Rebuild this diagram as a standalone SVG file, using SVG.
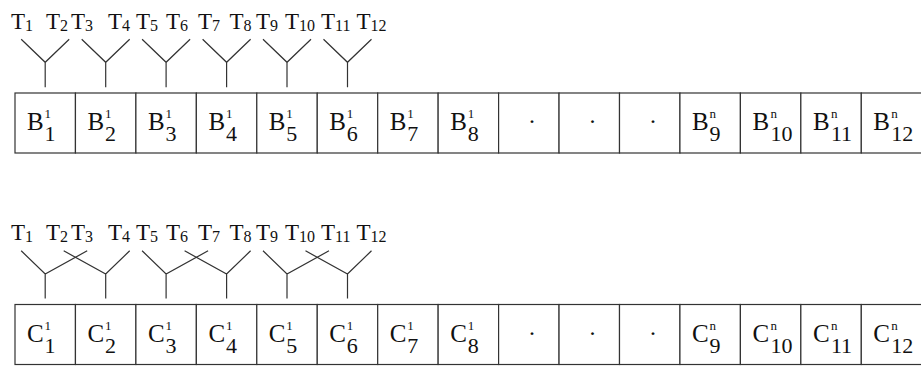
<svg xmlns="http://www.w3.org/2000/svg" width="921" height="367" viewBox="0 0 921 367">
<style>
text{font-family:"Liberation Serif","Times New Roman",serif;fill:#111}
.t{font-size:23px}
.ts{font-size:16px}
.m{font-size:25px}
.sub{font-size:22px}
.sup{font-size:13px}
.dot{font-size:24px;text-anchor:middle}
.cell{fill:#fff;stroke:#333;stroke-width:1.2}
.ln{stroke:#333;stroke-width:1.2;fill:none}
</style>
<rect width="921" height="367" fill="#fff"/>
<g id="labels-top">
<text class="t" y="28.5"><tspan x="11">T</tspan><tspan class="ts" dy="2">1</tspan><tspan x="46" dy="-2">T</tspan><tspan class="ts" dy="2">2</tspan><tspan x="71" dy="-2">T</tspan><tspan class="ts" dy="2">3</tspan><tspan x="108" dy="-2">T</tspan><tspan class="ts" dy="2">4</tspan><tspan x="136" dy="-2">T</tspan><tspan class="ts" dy="2">5</tspan><tspan x="166" dy="-2">T</tspan><tspan class="ts" dy="2">6</tspan><tspan x="198" dy="-2">T</tspan><tspan class="ts" dy="2">7</tspan><tspan x="229.5" dy="-2">T</tspan><tspan class="ts" dy="2">8</tspan><tspan x="256" dy="-2">T</tspan><tspan class="ts" dy="2">9</tspan><tspan x="285" dy="-2">T</tspan><tspan class="ts" dy="2">10</tspan><tspan x="321" dy="-2">T</tspan><tspan class="ts" dy="2">11</tspan><tspan x="356.5" dy="-2">T</tspan><tspan class="ts" dy="2">12</tspan></text>
</g>
<g id="labels-bottom">
<text class="t" y="240"><tspan x="11">T</tspan><tspan class="ts" dy="2">1</tspan><tspan x="46" dy="-2">T</tspan><tspan class="ts" dy="2">2</tspan><tspan x="71" dy="-2">T</tspan><tspan class="ts" dy="2">3</tspan><tspan x="108" dy="-2">T</tspan><tspan class="ts" dy="2">4</tspan><tspan x="136" dy="-2">T</tspan><tspan class="ts" dy="2">5</tspan><tspan x="166" dy="-2">T</tspan><tspan class="ts" dy="2">6</tspan><tspan x="198" dy="-2">T</tspan><tspan class="ts" dy="2">7</tspan><tspan x="229.5" dy="-2">T</tspan><tspan class="ts" dy="2">8</tspan><tspan x="256" dy="-2">T</tspan><tspan class="ts" dy="2">9</tspan><tspan x="285" dy="-2">T</tspan><tspan class="ts" dy="2">10</tspan><tspan x="321" dy="-2">T</tspan><tspan class="ts" dy="2">11</tspan><tspan x="356.5" dy="-2">T</tspan><tspan class="ts" dy="2">12</tspan></text>
</g>
<g id="connectors" class="ln">
<path d="M21.2 39.3L45.2 62.3L69.2 39.3M45.2 62.3V87.3"/>
<path d="M81.7 39.3L105.7 62.3L129.7 39.3M105.7 62.3V87.3"/>
<path d="M142.1 39.3L166.1 62.3L190.1 39.3M166.1 62.3V87.3"/>
<path d="M202.6 39.3L226.6 62.3L250.6 39.3M226.6 62.3V87.3"/>
<path d="M263 39.3L287 62.3L311 39.3M287 62.3V87.3"/>
<path d="M323.5 39.3L347.5 62.3L371.5 39.3M347.5 62.3V87.3"/>
<path d="M21.2 250.8L45.2 274L87.2 250.8M45.2 274V298.5"/>
<path d="M63.7 250.8L105.7 274L129.7 250.8M105.7 274V298.5"/>
<path d="M142.1 250.8L166.1 274L208.1 250.8M166.1 274V298.5"/>
<path d="M184.6 250.8L226.6 274L250.6 250.8M226.6 274V298.5"/>
<path d="M263 250.8L287 274L329 250.8M287 274V298.5"/>
<path d="M305.5 250.8L347.5 274L371.5 250.8M347.5 274V298.5"/>
</g>
<g id="row-B">
<g id="B1"><rect class="cell" x="15" y="93" width="60.45" height="60"/><text class="m" x="27" y="130">B</text><text class="sup" x="44.5" y="118">1</text><text class="sub" x="44.5" y="141">1</text></g>
<g id="B2"><rect class="cell" x="75.45" y="93" width="60.45" height="60"/><text class="m" x="87.5" y="130">B</text><text class="sup" x="105" y="118">1</text><text class="sub" x="105" y="141">2</text></g>
<g id="B3"><rect class="cell" x="135.9" y="93" width="60.45" height="60"/><text class="m" x="147.9" y="130">B</text><text class="sup" x="165.4" y="118">1</text><text class="sub" x="165.4" y="141">3</text></g>
<g id="B4"><rect class="cell" x="196.35" y="93" width="60.45" height="60"/><text class="m" x="208.4" y="130">B</text><text class="sup" x="225.9" y="118">1</text><text class="sub" x="225.9" y="141">4</text></g>
<g id="B5"><rect class="cell" x="256.8" y="93" width="60.45" height="60"/><text class="m" x="268.8" y="130">B</text><text class="sup" x="286.3" y="118">1</text><text class="sub" x="286.3" y="141">5</text></g>
<g id="B6"><rect class="cell" x="317.25" y="93" width="60.45" height="60"/><text class="m" x="329.3" y="130">B</text><text class="sup" x="346.8" y="118">1</text><text class="sub" x="346.8" y="141">6</text></g>
<g id="B7"><rect class="cell" x="377.7" y="93" width="60.45" height="60"/><text class="m" x="389.7" y="130">B</text><text class="sup" x="407.2" y="118">1</text><text class="sub" x="407.2" y="141">7</text></g>
<g id="B8"><rect class="cell" x="438.15" y="93" width="60.45" height="60"/><text class="m" x="450.2" y="130">B</text><text class="sup" x="467.7" y="118">1</text><text class="sub" x="467.7" y="141">8</text></g>
<g id="Bd1"><rect class="cell" x="498.6" y="93" width="60.45" height="60"/><text class="dot" x="532" y="129">·</text></g>
<g id="Bd2"><rect class="cell" x="559.05" y="93" width="60.45" height="60"/><text class="dot" x="592.5" y="129">·</text></g>
<g id="Bd3"><rect class="cell" x="619.5" y="93" width="60.45" height="60"/><text class="dot" x="653" y="129">·</text></g>
<g id="B9"><rect class="cell" x="679.95" y="93" width="60.45" height="60"/><text class="m" x="692" y="130">B</text><text class="sup" x="709.5" y="118">n</text><text class="sub" x="709.5" y="141">9</text></g>
<g id="B10"><rect class="cell" x="740.4" y="93" width="60.45" height="60"/><text class="m" x="752.4" y="130">B</text><text class="sup" x="770.4" y="118">n</text><text class="sub" x="770.4" y="141">10</text></g>
<g id="B11"><rect class="cell" x="800.85" y="93" width="60.45" height="60"/><text class="m" x="812.9" y="130">B</text><text class="sup" x="830.9" y="118">n</text><text class="sub" x="830.9" y="141">11</text></g>
<g id="B12"><rect class="cell" x="861.3" y="93" width="60.45" height="60"/><text class="m" x="873.3" y="130">B</text><text class="sup" x="891.3" y="118">n</text><text class="sub" x="891.3" y="141">12</text></g>
</g>
<g id="row-C">
<g id="C1"><rect class="cell" x="15" y="304.5" width="60.45" height="60"/><text class="m" x="27" y="341.5">C</text><text class="sup" x="44.5" y="329.5">1</text><text class="sub" x="44.5" y="352.5">1</text></g>
<g id="C2"><rect class="cell" x="75.45" y="304.5" width="60.45" height="60"/><text class="m" x="87.5" y="341.5">C</text><text class="sup" x="105" y="329.5">1</text><text class="sub" x="105" y="352.5">2</text></g>
<g id="C3"><rect class="cell" x="135.9" y="304.5" width="60.45" height="60"/><text class="m" x="147.9" y="341.5">C</text><text class="sup" x="165.4" y="329.5">1</text><text class="sub" x="165.4" y="352.5">3</text></g>
<g id="C4"><rect class="cell" x="196.35" y="304.5" width="60.45" height="60"/><text class="m" x="208.4" y="341.5">C</text><text class="sup" x="225.9" y="329.5">1</text><text class="sub" x="225.9" y="352.5">4</text></g>
<g id="C5"><rect class="cell" x="256.8" y="304.5" width="60.45" height="60"/><text class="m" x="268.8" y="341.5">C</text><text class="sup" x="286.3" y="329.5">1</text><text class="sub" x="286.3" y="352.5">5</text></g>
<g id="C6"><rect class="cell" x="317.25" y="304.5" width="60.45" height="60"/><text class="m" x="329.3" y="341.5">C</text><text class="sup" x="346.8" y="329.5">1</text><text class="sub" x="346.8" y="352.5">6</text></g>
<g id="C7"><rect class="cell" x="377.7" y="304.5" width="60.45" height="60"/><text class="m" x="389.7" y="341.5">C</text><text class="sup" x="407.2" y="329.5">1</text><text class="sub" x="407.2" y="352.5">7</text></g>
<g id="C8"><rect class="cell" x="438.15" y="304.5" width="60.45" height="60"/><text class="m" x="450.2" y="341.5">C</text><text class="sup" x="467.7" y="329.5">1</text><text class="sub" x="467.7" y="352.5">8</text></g>
<g id="Cd1"><rect class="cell" x="498.6" y="304.5" width="60.45" height="60"/><text class="dot" x="532" y="340.5">·</text></g>
<g id="Cd2"><rect class="cell" x="559.05" y="304.5" width="60.45" height="60"/><text class="dot" x="592.5" y="340.5">·</text></g>
<g id="Cd3"><rect class="cell" x="619.5" y="304.5" width="60.45" height="60"/><text class="dot" x="653" y="340.5">·</text></g>
<g id="C9"><rect class="cell" x="679.95" y="304.5" width="60.45" height="60"/><text class="m" x="692" y="341.5">C</text><text class="sup" x="709.5" y="329.5">n</text><text class="sub" x="709.5" y="352.5">9</text></g>
<g id="C10"><rect class="cell" x="740.4" y="304.5" width="60.45" height="60"/><text class="m" x="752.4" y="341.5">C</text><text class="sup" x="770.4" y="329.5">n</text><text class="sub" x="770.4" y="352.5">10</text></g>
<g id="C11"><rect class="cell" x="800.85" y="304.5" width="60.45" height="60"/><text class="m" x="812.9" y="341.5">C</text><text class="sup" x="830.9" y="329.5">n</text><text class="sub" x="830.9" y="352.5">11</text></g>
<g id="C12"><rect class="cell" x="861.3" y="304.5" width="60.45" height="60"/><text class="m" x="873.3" y="341.5">C</text><text class="sup" x="891.3" y="329.5">n</text><text class="sub" x="891.3" y="352.5">12</text></g>
</g>
</svg>
